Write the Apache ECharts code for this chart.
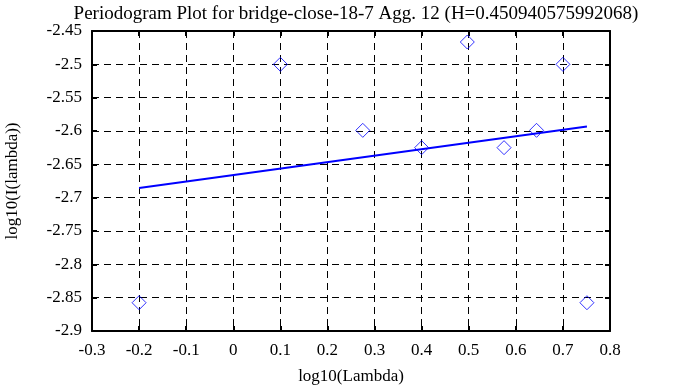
<!DOCTYPE html>
<html>
<head>
<meta charset="utf-8">
<script src="https://cdn.jsdelivr.net/npm/echarts@6/dist/echarts.min.js"></script>
<style>html,body{margin:0;padding:0;background:#fff}#c{width:698px;height:387px}</style>
</head>
<body>
<div id="c"></div>
<script>
var pointX = [-0.2, 0.1, 0.275, 0.4, 0.497, 0.575, 0.644, 0.7, 0.751];
var pointY = [-2.8576, -2.5, -2.599, -2.625, -2.4665, -2.625, -2.599, -2.5, -2.8576];
var fitX = [-0.2, 0.751];
var fitY = [-2.6855, -2.5933];
var xTicks = {min: -0.3, max: 0.8, interval: 0.1};
var yTicks = {min: -2.9, max: -2.45, interval: 0.05};

var font = 'Liberation Serif';
var chart = echarts.init(document.getElementById('c'), null, {renderer: 'canvas'});
function axisBase(extra) {
  var o = {
    type: 'value',
    axisLine: {show: true, onZero: false, lineStyle: {color: '#000', width: 2}},
    axisTick: {show: true, inside: true, length: 5, lineStyle: {color: '#000', width: 2}},
    splitLine: {show: false},
    axisLabel: {show: false}
  };
  for (var k in extra) o[k] = extra[k];
  return o;
}
chart.setOption({
  animation: false,
  backgroundColor: '#fff',
  title: {
    text: 'Periodogram Plot for bridge-close-18-7 Agg. 12 (H=0.450940575992068)',
    left: 351, top: 0, textAlign: 'center',
    textStyle: {fontFamily: font, fontSize: 19, fontWeight: 'normal', color: '#000'}
  },
  grid: {left: 92, right: 88, top: 31, bottom: 56, containLabel: false, outerBoundsMode: 'none'},
  xAxis: [
    axisBase({
      min: xTicks.min, max: xTicks.max, interval: xTicks.interval, position: 'bottom',
      name: 'log10(Lambda)', nameLocation: 'middle', nameGap: 37,
      nameTextStyle: {fontFamily: font, fontSize: 17, color: '#000'},
      axisLabel: {show: true, fontFamily: font, fontSize: 17, color: '#000', margin: 11,
        formatter: function (v) { return String(Math.round(v * 10) / 10); }},
      splitLine: {show: true, lineStyle: {color: '#000', type: [7, 5], width: 1}}
    }),
    axisBase({min: xTicks.min, max: xTicks.max, interval: xTicks.interval, position: 'top'})
  ],
  yAxis: [
    axisBase({
      min: yTicks.min, max: yTicks.max, interval: yTicks.interval, position: 'left',
      name: 'log10(I(lambda))', nameLocation: 'middle', nameGap: 71,
      nameTextStyle: {fontFamily: font, fontSize: 17, color: '#000'},
      axisLabel: {show: true, fontFamily: font, fontSize: 17, color: '#000', margin: 10,
        formatter: function (v) { return String(Math.round(v * 100) / 100); }},
      splitLine: {show: true, lineStyle: {color: '#000', type: [7, 5], width: 1}}
    }),
    axisBase({min: yTicks.min, max: yTicks.max, interval: yTicks.interval, position: 'right'})
  ],
  series: [
    {
      type: 'scatter',
      data: pointX.map(function (x, i) { return [x, pointY[i]]; }),
      symbol: 'diamond', symbolSize: [14, 14],
      itemStyle: {color: 'transparent', borderColor: '#0000ff', borderWidth: 1},
      z: 5
    },
    {
      type: 'line',
      data: fitX.map(function (x, i) { return [x, fitY[i]]; }),
      showSymbol: false, symbol: 'none',
      lineStyle: {color: '#0000ff', width: 2},
      z: 4
    }
  ]
});
</script>
</body>
</html>
